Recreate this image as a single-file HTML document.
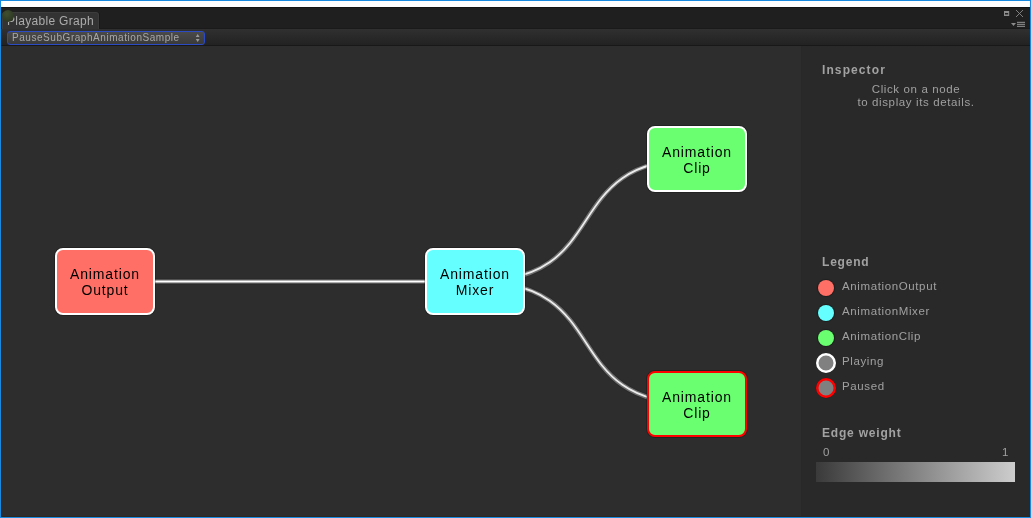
<!DOCTYPE html>
<html><head><meta charset="utf-8">
<style>
*{margin:0;padding:0;box-sizing:border-box}
html,body{width:1031px;height:518px;overflow:hidden;background:#188ae0}
body{position:relative;font-family:"Liberation Sans",sans-serif}
.g{will-change:transform}
.a{position:absolute}
#white{left:1px;top:1px;width:1029px;height:6px;background:#fff}
#blk{left:1px;top:7px;width:1029px;height:1px;background:#141414}
#tabbar{left:1px;top:8px;width:1029px;height:21px;background:#1f1f1f}
#tab{left:2px;top:12px;width:97px;height:17px;background:#333;border:1px solid #3c3c3c;border-bottom:none;border-radius:3px 3px 0 0;z-index:2;box-shadow:1px 0 0 #191919}
#tabtxt{z-index:3;left:7px;top:14px;font-size:12px;color:#acacac;letter-spacing:0.3px;white-space:nowrap}
#dot{z-index:4;left:1.8px;top:9.8px;width:12.4px;height:12.4px;border-radius:50%;background:radial-gradient(circle at 40% 30%,#404f2f,#313c25 60%,#262e1d)}
#tb{left:1px;top:28px;width:1029px;height:18px;background:linear-gradient(#303030,#222222);border-top:1px solid #1a1a1a;border-bottom:1px solid #181818}
#dd{left:7px;top:31px;width:198px;height:14px;border:1.5px solid #2b4bc4;border-radius:3px;background:linear-gradient(#4a4a4a,#3a3a3a)}
#ddtxt{left:11.8px;top:32px;font-size:10px;color:#a8a8a8;letter-spacing:0.55px;white-space:nowrap}
#graph{left:1px;top:46px;width:800px;height:470px;background:#2d2d2d}
#panel{left:801px;top:46px;width:228px;height:470px;background:#292929;border-left:1px solid #282828}
#brl{left:1px;top:46px;width:1px;height:471px;background:#2d2722}
#brb{left:1px;top:516px;width:1029px;height:1px;background:#2d2722}
#brr{left:1029px;top:46px;width:1px;height:471px;background:#2d2722}
.node{position:absolute;width:100px;border:2px solid #fff;border-radius:8px;box-shadow:0 0 0 1px rgba(0,0,0,0.24);color:#111;font-size:14px;letter-spacing:0.85px;text-align:center;line-height:16px;will-change:transform;color:#000}
.node span{position:absolute;left:0;right:0;white-space:nowrap}
.h{font-weight:bold;font-size:12px;color:#a2a2a2;letter-spacing:0.8px;white-space:nowrap;will-change:transform}
.t{font-size:11.5px;color:#a0a0a0;letter-spacing:0.62px;white-space:nowrap;will-change:transform}
.lc{position:absolute;left:818px;width:16px;height:16px;border-radius:50%;box-shadow:0 0 1px 1px rgba(0,0,0,0.3)}
</style></head><body>
<div class="a" id="white"></div>
<div class="a" id="blk"></div>
<div class="a" id="tabbar"></div>
<div class="a" id="tab"></div>
<div class="a g" id="tabtxt">Playable Graph</div>
<div class="a" id="dot"></div>
<!-- window buttons -->
<svg class="a" style="left:1000px;top:8px" width="30" height="21" viewBox="1000 8 30 21">
  <rect x="1004" y="11" width="5.2" height="5" fill="#8c8c8c"/>
  <rect x="1005" y="13" width="3.2" height="1.5" fill="#232323"/>
  <path d="M1016,10 L1023,17 M1023,10 L1016,17" stroke="#8a8a8a" stroke-width="0.9"/>
  <path d="M1011,23 L1016,23 L1013.5,26 Z" fill="#8a8a8a"/>
  <rect x="1017" y="21.8" width="8" height="1.1" fill="#8a8a8a"/>
  <rect x="1017" y="23.8" width="8" height="1.1" fill="#8a8a8a"/>
  <rect x="1017" y="25.8" width="8" height="1.1" fill="#8a8a8a"/>
</svg>
<div class="a" id="tb"></div>
<div class="a" id="dd"></div>
<div class="a g" id="ddtxt">PauseSubGraphAnimationSample</div>
<svg class="a" style="left:194px;top:33px" width="8" height="11" viewBox="0 0 8 11">
  <path d="M1.8,4 L5.6,4 L3.7,1 Z M1.8,6 L5.6,6 L3.7,9 Z" fill="#9a9a9a"/>
</svg>
<div class="a" id="graph"></div>
<div class="a" id="panel"></div>
<div class="a" id="brl"></div>
<div class="a" id="brb"></div>
<div class="a" id="brr"></div>

<svg class="a" style="left:0;top:0" width="1031" height="518">
  <g fill="none" stroke="rgba(0,0,0,0.1)" stroke-width="6"><path d="M105,281.5 L475,281.5"/></g>
  <g fill="none" stroke="rgba(255,255,255,0.25)" stroke-width="4.4"><path d="M105,281.5 L475,281.5"/></g>
  <g fill="none" stroke="#fff" stroke-width="1.8"><path d="M105,281.5 L475,281.5"/></g>
  <g fill="none" stroke="rgba(0,0,0,0.1)" stroke-width="6.4"><path d="M475,281.5 C617,281.5 555,159 697,159"/><path d="M475,281.5 C617,281.5 555,404 697,404"/></g>
  <g fill="none" stroke="rgba(255,255,255,0.32)" stroke-width="4.6"><path d="M475,281.5 C617,281.5 555,159 697,159"/><path d="M475,281.5 C617,281.5 555,404 697,404"/></g>
  <g fill="none" stroke="#ececec" stroke-width="1.8"><path d="M475,281.5 C617,281.5 555,159 697,159"/><path d="M475,281.5 C617,281.5 555,404 697,404"/></g>
</svg>

<div class="node" style="left:55px;top:248px;height:67px;background:#ff6f65"><span style="top:16px">Animation</span><span style="top:32px">Output</span></div>
<div class="node" style="left:425px;top:248px;height:67px;background:#66ffff"><span style="top:16px">Animation</span><span style="top:32px">Mixer</span></div>
<div class="node" style="left:647px;top:126px;height:66px;background:#69ff70"><span style="top:16px">Animation</span><span style="top:32px">Clip</span></div>
<div class="node" style="left:647px;top:371px;height:66px;background:#69ff70;border-color:#ff0000"><span style="top:16px">Animation</span><span style="top:32px">Clip</span></div>

<div class="a h" style="left:822px;top:63px;letter-spacing:1.1px">Inspector</div>
<div class="a t" style="left:801.8px;width:228px;top:83px;text-align:center;line-height:12.5px">Click on a node<br>to display its details.</div>

<div class="a h" style="left:822px;top:255px">Legend</div>
<div class="lc" style="top:280px;background:#ff6f65"></div>
<div class="a t" style="left:842px;top:280px">AnimationOutput</div>
<div class="lc" style="top:305px;background:#66ffff"></div>
<div class="a t" style="left:842px;top:305px">AnimationMixer</div>
<div class="lc" style="top:330px;background:#69ff70"></div>
<div class="a t" style="left:842px;top:330px">AnimationClip</div>
<svg class="a" style="left:814px;top:351px" width="24" height="24"><circle cx="12" cy="12" r="10.3" fill="rgba(0,0,0,0.25)"/><circle cx="12" cy="12" r="8.75" fill="#808080" stroke="#fff" stroke-width="2.5"/></svg>
<div class="a t" style="left:842px;top:355px">Playing</div>
<svg class="a" style="left:814px;top:376px" width="24" height="24"><circle cx="12" cy="12" r="10.3" fill="rgba(0,0,0,0.25)"/><circle cx="12" cy="12" r="8.75" fill="#808080" stroke="#f00" stroke-width="2.5"/></svg>
<div class="a t" style="left:842px;top:380px">Paused</div>

<div class="a h" style="left:822px;top:426px">Edge weight</div>
<div class="a t" style="left:823px;top:446px">0</div>
<div class="a t" style="left:1002px;top:446px">1</div>
<div class="a" style="left:816px;top:462px;width:199px;height:20px;background:linear-gradient(90deg,#3a3a3a,#848484 50%,#cdcdcd)"></div>
</body></html>
